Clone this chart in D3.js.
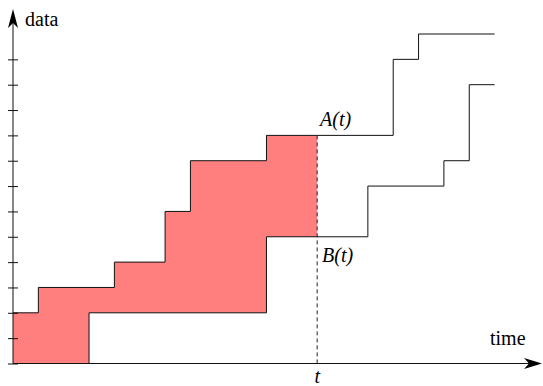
<!DOCTYPE html>
<html><head><meta charset="utf-8">
<script src="https://cdn.jsdelivr.net/npm/d3@7"></script>
<style>body{margin:0;background:#fff}svg{display:block}</style>
</head><body>
<script>
// step functions (value holds from x until next x)
const aX = [0, 1, 4, 6, 7, 10, 15, 16, 19];
const aV = [2, 3, 4, 6, 8, 9, 12, 13, 13];
const bX = [0, 3, 10, 14, 17, 18, 19];
const bV = [0, 2, 5, 7, 8, 11, 11];
const tValue = 12;
const yTicks = [0,1,2,3,4,5,6,7,8,9,10,11,12];
const labels = {y: "data", x: "time", a: "A(t)", b: "B(t)", t: "t"};

const W = 543, H = 386;
const svg = d3.select("body").append("svg").attr("width", W).attr("height", H);
const x = d3.scaleLinear().domain([0, 19]).range([13, 494.6]);
const y = d3.scaleLinear().domain([0, 13]).range([363.5, 34]);

const A = aX.map((d, i) => [d, aV[i]]);
const B = bX.map((d, i) => [d, bV[i]]);
const stepVal = (X, V, t) => { let v = V[0]; for (let i = 0; i < X.length; i++) if (X[i] <= t) v = V[i]; return v; };

// shaded area between A and B up to t
const grid = Array.from(new Set([...aX, ...bX, tValue])).filter(d => d <= tValue).sort((p, q) => p - q);
const area = d3.area().curve(d3.curveStepAfter)
  .x(d => x(d)).y0(d => y(stepVal(bX, bV, d))).y1(d => y(stepVal(aX, aV, d)));
svg.append("path").datum(grid).attr("d", area).attr("fill", "#ff7f7f");

// step lines
const line = d3.line().curve(d3.curveStepAfter).x(d => x(d[0])).y(d => y(d[1]));
svg.append("path").datum(A).attr("d", line).attr("fill", "none").attr("stroke", "#111").attr("stroke-width", 1);
svg.append("path").datum(B).attr("d", line).attr("fill", "none").attr("stroke", "#111").attr("stroke-width", 1);

// dashed line at t
svg.append("line").attr("x1", x(tValue)).attr("x2", x(tValue))
  .attr("y1", y(stepVal(aX, aV, tValue))).attr("y2", y(0))
  .attr("stroke", "#222").attr("stroke-width", 1).attr("stroke-dasharray", "4,3");

// y axis ticks
const yAxis = d3.axisLeft(y).tickValues(yTicks).tickFormat("").tickSizeInner(5).tickSizeOuter(0);
const gy = svg.append("g").attr("transform", `translate(${x(0)},0)`).call(yAxis);
gy.select(".domain").remove();
gy.selectAll(".tick line").attr("x1", 5).attr("stroke", "#111");

// axis lines with arrows
svg.append("line").attr("x1", x(0)).attr("x2", x(0)).attr("y1", y(0)).attr("y2", 20).attr("stroke", "#111");
svg.append("line").attr("x1", x(0)).attr("x2", 530).attr("y1", y(0)).attr("y2", y(0)).attr("stroke", "#111");
const ax0 = x(0);
svg.append("path").attr("d", `M${ax0},9 L${ax0+5},28 L${ax0},23 L${ax0-5},28 Z`).attr("fill", "#000");
const ay0 = y(0);
svg.append("path").attr("d", `M542,${ay0} L524,${ay0-5.5} L529,${ay0} L524,${ay0+5.5} Z`).attr("fill", "#000");

// texts
const txt = (tx, ty, s, italic, anchor) => svg.append("text").attr("x", tx).attr("y", ty)
  .attr("text-anchor", anchor || "start")
  .style("font-family", '"Liberation Serif", monospace').style("font-size", "20px")
  .style("font-style", italic ? "italic" : "normal").text(s);
txt(25, 26, labels.y);
txt(490, 345, labels.x);
txt(320, 126, labels.a, true);
txt(322, 262, labels.b, true);
txt(x(tValue), 383, labels.t, true, "middle");
</script>
</body></html>
